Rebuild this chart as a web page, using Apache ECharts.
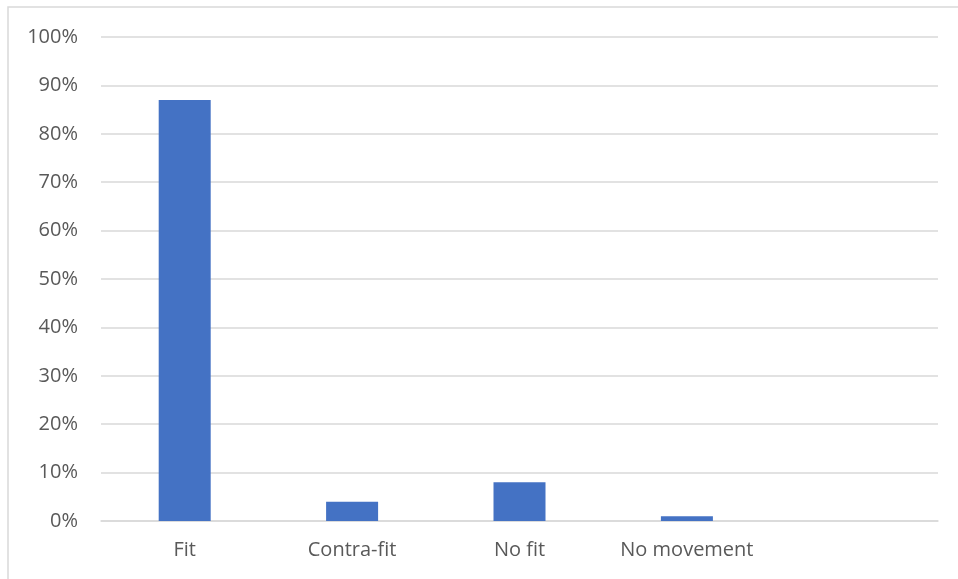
<!DOCTYPE html>
<html>
<head>
<meta charset="utf-8">
<script src="https://cdn.jsdelivr.net/npm/echarts@6/dist/echarts.min.js"></script>
<style>
  html, body { margin: 0; padding: 0; background: #fff; }
  #chart { width: 958px; height: 579px; }
</style>
</head>
<body>
<div id="chart"></div>
<script>
// Share of responses per movement category (percent)
const categories = ['Fit', 'Contra-fit', 'No fit', 'No movement', ''];
const shares = [87, 4, 8, 1, null];
const yTicks = { min: 0, max: 100, step: 10 };

const chart = echarts.init(document.getElementById('chart'));
chart.setOption({
  animation: false,
  graphic: [{
    type: 'rect',
    shape: { x: 8, y: 7, width: 1000, height: 1000 },
    style: { fill: 'none', stroke: '#d9d9d9', lineWidth: 1.5 },
    silent: true
  }],
  grid: { left: 101, right: 20, top: 37, bottom: 58 },
  xAxis: {
    type: 'category',
    data: categories,
    axisLine: { show: true, lineStyle: { color: '#d9d9d9', width: 1.5 } },
    axisTick: { show: false },
    axisLabel: {
      interval: 0,
      hideOverlap: false,
      color: '#595959',
      fontFamily: '"Open Sans", sans-serif',
      fontSize: 20,
      margin: 19
    }
  },
  yAxis: {
    type: 'value',
    min: yTicks.min,
    max: yTicks.max,
    interval: yTicks.step,
    axisLine: { show: false },
    axisTick: { show: false },
    splitLine: { lineStyle: { color: '#d9d9d9', width: 1.5 } },
    axisLabel: {
      color: '#595959',
      fontFamily: '"Open Sans", sans-serif',
      fontSize: 20,
      margin: 23,
      formatter: '{value}%'
    }
  },
  series: [{
    type: 'bar',
    data: shares,
    barWidth: 52,
    itemStyle: { color: '#4472c4' }
  }]
});
</script>
</body>
</html>
